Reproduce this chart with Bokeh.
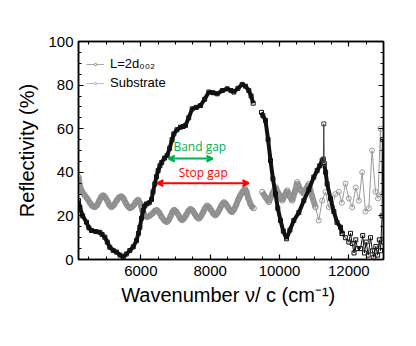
import math
from bokeh.plotting import figure
from bokeh.models import (Range1d, LinearAxis, Legend, LegendItem, Arrow, VeeHead,
                          Label, SingleIntervalTicker)
from bokeh.embed import file_html
from bokeh.resources import INLINE

# ---- data ----
film_x_a = [4200, 4240, 4320, 4431, 4500, 4575, 4700, 4815, 4880, 4960, 5030, 5103, 5200, 5296,
            5400, 5490, 5580, 5680, 5780, 5873, 5930, 5970, 6020, 6066, 6110, 6162, 6240, 6306,
            6350, 6402, 6450, 6498, 6550, 6600, 6680, 6758, 6830, 6900, 6950, 7040, 7143, 7220,
            7287, 7380, 7480, 7600, 7720, 7840, 7960, 8080, 8202, 8350, 8490, 8600, 8682, 8800,
            8923, 9020, 9114, 9180, 9240]
film_y_a = [27, 24, 20, 17.1, 14.5, 13.3, 12.8, 12.5, 11.5, 10.2, 8, 5.6, 4.2, 3.4,
            2, 1.1, 2.5, 4.1, 5.8, 8.7, 12, 14.8, 19, 22.5, 24.5, 25.5, 26, 27.5,
            31, 34.7, 38, 40.8, 43, 44.5, 46.5, 47.7, 51, 55, 57.6, 59.5, 60.7, 61,
            61.5, 65, 69.1, 69.8, 70.6, 73.5, 76.8, 76.5, 76, 77.5, 78.3, 77.5, 76.8, 78.5,
            80.3, 79.5, 77.5, 75, 71.7]
film_x_b = [9480, 9520, 9595, 9670, 9740, 9810, 9884, 9950, 10028, 10110, 10201, 10300, 10412,
            10557, 10700, 10845, 10989, 11086, 11160, 11230, 11265]
film_y_b = [67.5, 66, 63.8, 55, 45.4, 37, 30.1, 23.5, 17.9, 13, 9.5, 13.5, 17.9,
            21.5, 27, 32, 37.8, 40.8, 43, 45.4, 46]
film_x_spike = [11265, 11277, 11290]
film_y_spike = [46, 62.2, 44]
film_x_c = [11290, 11330, 11374, 11470, 11567, 11660, 11759, 11807]
film_y_c = [44, 40, 34.7, 28, 22, 17, 14.8, 11.9]
film_x_tail = [11807, 11900, 12000, 12048, 12097, 12150, 12200, 12250, 12337, 12400, 12450, 12500,
               12560, 12625, 12680, 12720, 12780, 12830, 12880, 12913, 12960, 12980, 13000]
film_y_tail = [11.9, 10, 8, 12, 7.3, 3, 9, 5, 5, 11, 3, 8,
               2, 10, 4, 1, 6, 2, 9, 4, 20, 55, 8]

sub_x_a = [4200, 4250, 4310, 4380, 4450, 4530, 4600, 4670, 4740, 4800, 4860, 4910, 4970, 5030,
           5090, 5150, 5220, 5300, 5370, 5440, 5500, 5560, 5620, 5680, 5740, 5800, 5860, 5920,
           5990, 6050, 6120, 6180, 6250, 6330, 6400, 6460, 6530, 6600, 6680, 6750, 6800, 6860,
           6910, 6960, 7020, 7080, 7140, 7190, 7250, 7310, 7370, 7430, 7490, 7550, 7610, 7670,
           7730, 7790, 7850, 7910, 7970, 8030, 8090, 8150, 8210, 8270, 8330, 8390, 8450, 8510,
           8570, 8630, 8690, 8750, 8810, 8870, 8930, 9000, 9050, 9100, 9160, 9210, 9260]
sub_y_a = [38, 33, 31, 29.5, 28, 26, 24.5, 24, 25, 27, 28.8, 29.5, 28.5, 27,
           25, 24, 25, 27, 28.5, 29, 28, 26, 24.5, 23.5, 24, 25, 26.5, 27.5,
           25.5, 22, 20, 19.5, 20, 21, 22.3, 22.7, 21.5, 19.5, 17.8, 17.2, 18, 20,
           21.8, 22.8, 22, 20.5, 18.8, 18, 19, 20.5, 22.3, 23.2, 22.5, 21, 19.5, 18.7,
           19.8, 21.5, 23.5, 24.8, 24, 22.5, 21, 20.2, 21.3, 23, 25, 26.3, 25.5, 24,
           22.5, 21.7, 23, 25, 27.5, 29.4, 31, 32.5, 31, 28, 25.5, 24, 23.5]
sub_x_b = [9500, 9600, 9692, 9790, 9884, 9980, 10077, 10150, 10221, 10290, 10365, 10440, 10509,
           10600, 10700, 10770, 10845, 10940, 11038]
sub_y_b = [31, 28.5, 26.3, 30, 33.2, 30, 27, 29.5, 31.7, 29, 27, 31, 35.5,
           32, 30.1, 32.5, 34.7, 29, 24]
sub_x_tail = [11038, 11134, 11230, 11326, 11420, 11519, 11610, 11711, 11800, 11903, 12000, 12097,
              12200, 12290, 12385, 12480, 12577, 12670, 12769, 12840, 12913, 12960, 13000]
sub_y_tail = [24, 17.9, 27, 31, 24, 24, 30, 31, 26, 34.8, 28, 24,
              33, 27, 40, 22, 23.5, 50, 31, 28, 60, 30, 40]

band_gap = [6800, 8070, 46.3]
stop_gap = [6470, 9110, 35]

FONT = "Liberation Sans"
BLACK = "#111111"
GRAY = "#8c8c8c"

p = figure(width=408, height=338, output_backend="svg", toolbar_location=None,
           x_range=Range1d(4200, 13000), y_range=Range1d(0, 100),
           min_border_left=78, min_border_right=25, min_border_top=41, min_border_bottom=79)
p.background_fill_color = "white"
p.border_fill_color = "white"
p.grid.visible = False
p.outline_line_color = "black"
p.outline_line_width = 1.5

def style_axis(ax, labels=True):
    ax.axis_line_width = 1.5
    ax.major_tick_in = 5
    ax.major_tick_out = 0
    ax.minor_tick_in = 3
    ax.minor_tick_out = 0
    ax.major_tick_line_width = 1.2
    ax.minor_tick_line_width = 1
    ax.major_label_text_font = FONT
    ax.major_label_text_font_size = "15px"
    ax.major_label_text_color = "black"
    if not labels:
        ax.major_label_overrides = {v: "" for v in list(range(0, 101, 20)) + list(range(0, 14001, 2000))}
        ax.major_label_standoff = 0

p.xaxis.ticker = SingleIntervalTicker(interval=2000, num_minor_ticks=4)
p.yaxis.ticker = SingleIntervalTicker(interval=20, num_minor_ticks=4)
style_axis(p.xaxis[0])
style_axis(p.yaxis[0])
p.xaxis.major_label_standoff = 6
p.yaxis.major_label_standoff = 5
p.xaxis.axis_label = "Wavenumber  \u03bd/ c (cm\u207b\u00b9)"
p.yaxis.axis_label = "Reflectivity (%)"
for ax in (p.xaxis[0], p.yaxis[0]):
    ax.axis_label_text_font = FONT
    ax.axis_label_text_font_size = "20px"
    ax.axis_label_text_font_style = "normal"
    ax.axis_label_text_color = "black"
p.xaxis.axis_label_standoff = 5
p.yaxis.axis_label_standoff = 7

top_ax = LinearAxis(ticker=SingleIntervalTicker(interval=2000, num_minor_ticks=4))
right_ax = LinearAxis(ticker=SingleIntervalTicker(interval=20, num_minor_ticks=4))
style_axis(top_ax, labels=False)
style_axis(right_ax, labels=False)
p.add_layout(top_ax, "above")
p.add_layout(right_ax, "right")

# substrate (gray)
for xs, ys in ((sub_x_a, sub_y_a), (sub_x_b, sub_y_b)):
    p.line(xs, ys, line_color=GRAY, line_width=6, line_alpha=0.9)
    p.scatter(xs, ys, marker="circle", size=5, fill_color=None, line_color=GRAY, line_width=1)
p.line(sub_x_tail, sub_y_tail, line_color="#9a9a9a", line_width=1)
p.scatter(sub_x_tail, sub_y_tail, marker="circle", size=5, fill_color=None,
          line_color="#9a9a9a", line_width=1)

# film (black)
for xs, ys in ((film_x_a, film_y_a), (film_x_b, film_y_b), (film_x_c, film_y_c)):
    p.line(xs, ys, line_color=BLACK, line_width=4)
    p.scatter(xs, ys, marker="square", size=4, fill_color=None, line_color=BLACK, line_width=1)
p.line(film_x_spike, film_y_spike, line_color="#444444", line_width=1)
p.scatter(film_x_spike, film_y_spike, marker="square", size=4, fill_color=None,
          line_color="#444444", line_width=1)
p.line(film_x_tail, film_y_tail, line_color=BLACK, line_width=1)
p.scatter(film_x_tail, film_y_tail, marker="square", size=4, fill_color=None,
          line_color=BLACK, line_width=1)

# legend-only renderers
nan = [float("nan")]
l1 = p.line(nan, nan, line_color="#a8a8a8", line_width=1)
m1 = p.scatter(nan, nan, marker="circle", size=3, fill_color="white", line_color="#888888")
l2 = p.line(nan, nan, line_color="#c0c0c0", line_width=1)
m2 = p.scatter(nan, nan, marker="circle", size=3, fill_color="white", line_color="#b0b0b0")
legend = Legend(items=[LegendItem(label="L=2d\u2080\u2080\u2082", renderers=[l1, m1]),
                       LegendItem(label="Substrate", renderers=[l2, m2])],
                location=(8, 167), orientation="vertical")
legend.border_line_color = None
legend.background_fill_alpha = 0
legend.padding = 0
legend.margin = 0
legend.spacing = 0
legend.glyph_width = 18
legend.glyph_height = 6
legend.label_height = 19
legend.label_standoff = 6
legend.label_text_font = FONT
legend.label_text_font_size = "13px"
legend.label_text_color = "black"
p.add_layout(legend, "center")

# annotations
GREEN = "#00b050"
RED = "#ff0000"
p.add_layout(Arrow(start=VeeHead(size=6, line_color=GREEN, fill_color=GREEN, line_width=2),
                   end=VeeHead(size=6, line_color=GREEN, fill_color=GREEN, line_width=2),
                   x_start=band_gap[0], x_end=band_gap[1], y_start=band_gap[2], y_end=band_gap[2],
                   line_color=GREEN, line_width=2))
p.add_layout(Arrow(start=VeeHead(size=6, line_color=RED, fill_color=RED, line_width=2),
                   end=VeeHead(size=6, line_color=RED, fill_color=RED, line_width=2),
                   x_start=stop_gap[0], x_end=stop_gap[1], y_start=stop_gap[2], y_end=stop_gap[2],
                   line_color=RED, line_width=2))
p.add_layout(Label(x=7700, y=51.8, text="Band gap", text_color=GREEN, text_font="Open Sans",
                   text_font_size="12px", text_align="center", text_baseline="middle"))
p.add_layout(Label(x=7800, y=39.9, text="Stop gap", text_color=RED, text_font="Open Sans",
                   text_font_size="12px", text_align="center", text_baseline="middle"))

open("out.html", "w").write(file_html(p, INLINE))
